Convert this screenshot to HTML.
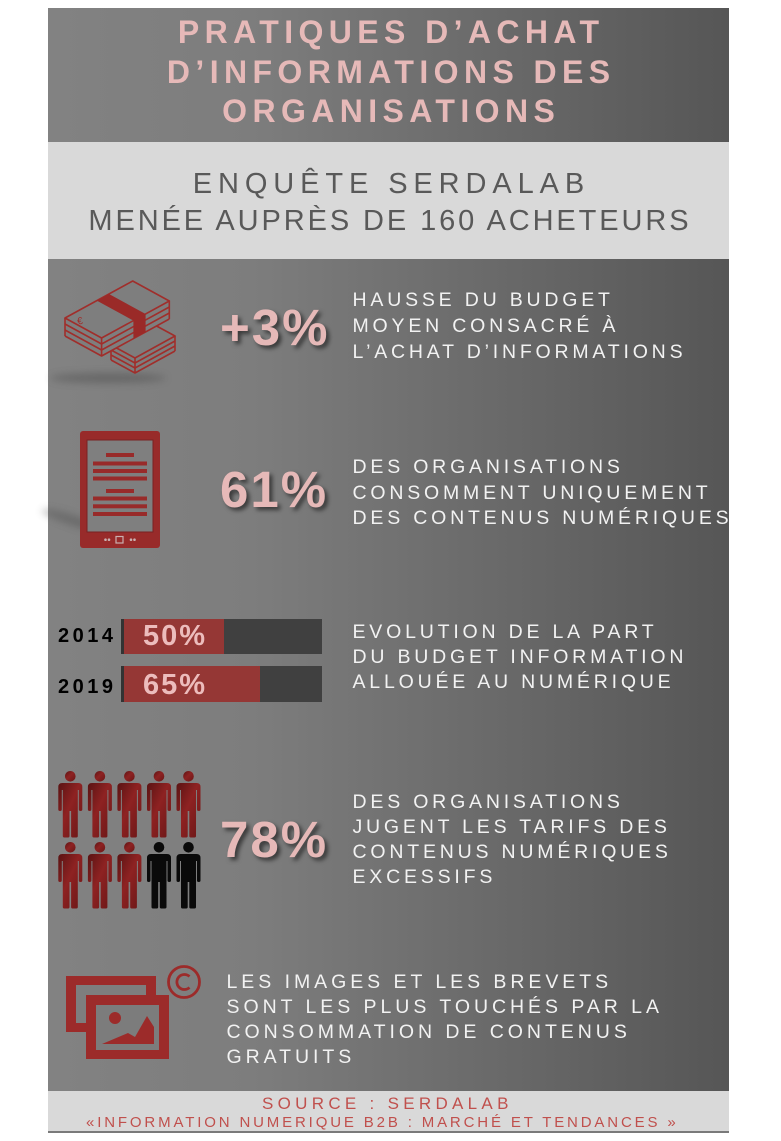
<!DOCTYPE html>
<html>
<head>
<meta charset="utf-8">
<style>
html,body{margin:0;padding:0;background:#fff;}
body{width:781px;height:1141px;position:relative;overflow:hidden;font-family:"Liberation Sans",Arial,sans-serif;}
.panel{position:absolute;left:48px;top:8px;width:681px;height:1125px;background:linear-gradient(to right,#828282 0%,#7d7d7d 30%,#6a6a6a 65%,#565656 100%);}
.band{position:absolute;left:48px;width:681px;background:#d9d9d9;}
.t{position:absolute;white-space:nowrap;line-height:1;font-family:"Liberation Sans",Arial,sans-serif;}
.title{left:48px;width:681px;box-sizing:border-box;text-align:center;font-size:32px;font-weight:bold;letter-spacing:5.4px;padding-left:5.4px;color:#e6b9b8;}
.sub{left:48px;width:681px;box-sizing:border-box;text-align:center;font-size:29px;color:#595959;}
.big{left:220px;font-size:51px;font-weight:bold;letter-spacing:2px;color:#e6b9b8;text-shadow:3px 3px 4px rgba(0,0,0,.55);}
.d{font-size:19.5px;letter-spacing:3.8px;color:#f2f2f2;}
.d5{letter-spacing:3.95px;}
.yr{left:58px;font-size:20px;font-weight:bold;letter-spacing:3.5px;color:#000;}
.pc{left:143px;font-size:29px;font-weight:bold;letter-spacing:2px;color:#ecbcbc;}
.bar{position:absolute;}
</style>
</head>
<body>
<div class="panel"></div>
<div class="band" style="top:142px;height:117px;"></div>
<div class="band" style="top:1091px;height:41px;"></div>
<div class="band" style="top:1131px;height:2px;background:#7a7a7a;"></div>

<!-- bars -->
<div class="bar" style="left:121px;top:619px;width:3px;height:35px;background:#333;"></div>
<div class="bar" style="left:124px;top:619px;width:100px;height:35px;background:#953735;"></div>
<div class="bar" style="left:224px;top:619px;width:98px;height:35px;background:#404040;"></div>
<div class="bar" style="left:121px;top:666px;width:3px;height:36px;background:#333;"></div>
<div class="bar" style="left:124px;top:666px;width:136px;height:36px;background:#953735;"></div>
<div class="bar" style="left:260px;top:666px;width:62px;height:36px;background:#404040;"></div>

<svg width="781" height="1141" style="position:absolute;left:0;top:0;" xmlns="http://www.w3.org/2000/svg">
<defs>
<filter id="bl" x="-50%" y="-200%" width="200%" height="500%"><feGaussianBlur stdDeviation="4"/></filter>
<linearGradient id="rg" x1="0" y1="0" x2="1" y2="1">
<stop offset="0" stop-color="#5a1313"/>
<stop offset="0.45" stop-color="#8e2222"/>
<stop offset="1" stop-color="#6a1717"/>
</linearGradient>
<g id="man">
<circle cx="0" cy="5.3" r="5.3"/>
<path d="M -12,16 Q -12,12 -8,12 L 8,12 Q 12,12 12,16 L 12,38.5 Q 12,40 10.25,40 Q 8.5,40 8.5,38.5 L 8.5,19 L 7.5,19 L 7.5,65 Q 7.5,66.5 6,66.5 L 2.2,66.5 Q 0.8,66.5 0.8,65 L 0.8,40 L -0.8,40 L -0.8,65 Q -0.8,66.5 -2.2,66.5 L -6,66.5 Q -7.5,66.5 -7.5,65 L -7.5,19 L -8.5,19 L -8.5,38.5 Q -8.5,40 -10.25,40 Q -12,40 -12,38.5 Z"/>
</g>
</defs>

<!-- shadows -->
<ellipse cx="108" cy="378" rx="58" ry="5" fill="#4a4a4a" opacity="0.45" filter="url(#bl)"/>
<ellipse cx="78" cy="522" rx="38" ry="5" fill="#4a4a4a" opacity="0.4" filter="url(#bl)" transform="rotate(18 78 522)"/>

<!-- money stack B (lower right) -->
<g stroke="#a02e2b" stroke-width="1.6" stroke-linejoin="round" fill="none">
<polygon points="111,345 151,323 175,336 175,351 135,373 111,360" fill="#7d7d7d" stroke="none"/>
<polygon points="111,345 151,323 175,336 135,358"/>
<polyline points="111,350 135,363 175,341"/>
<polyline points="111,355 135,368 175,346"/>
<polyline points="111,360 135,373 175,351"/>
<line x1="111" y1="345" x2="111" y2="360"/>
<line x1="135" y1="358" x2="135" y2="373"/>
<line x1="175" y1="336" x2="175" y2="351"/>
</g>
<!-- money stack A (upper left) -->
<g stroke="#a02e2b" stroke-width="1.6" stroke-linejoin="round" fill="none">
<polygon points="65,318 132.7,281 169.3,301 169.3,319 101.6,356 65,336" fill="#7e7e7e" stroke="none"/>
<polygon points="65,318 132.7,281 169.3,301 101.6,338"/>
<polyline points="65,324 101.6,344 169.3,307"/>
<polyline points="65,330 101.6,350 169.3,313"/>
<polyline points="65,336 101.6,356 169.3,319"/>
<line x1="65" y1="318" x2="65" y2="336"/>
<line x1="101.6" y1="338" x2="101.6" y2="356"/>
<line x1="169.3" y1="301" x2="169.3" y2="319"/>
</g>
<polygon points="96.8,300.6 109,294 145.6,314 145.6,332 133.4,338.6 133.4,320.6" fill="#9a2a28"/>
<text x="77" y="324" font-family="Liberation Sans, Arial, sans-serif" font-size="10" fill="#a02e2b" transform="rotate(-10 81 320)">€</text>

<!-- tablet -->
<rect x="80" y="431" width="80" height="117" rx="3" fill="#982b2a"/>
<rect x="87" y="440" width="66" height="92" fill="#7f7f7f" stroke="#7a2222" stroke-width="1"/>
<g fill="#982b2a">
<rect x="106" y="453" width="28" height="4"/>
<rect x="93" y="461.5" width="54" height="4"/>
<rect x="93" y="469" width="54" height="4"/>
<rect x="93" y="476.5" width="54" height="4"/>
<rect x="106" y="489" width="28" height="4"/>
<rect x="93" y="496.5" width="54" height="4"/>
<rect x="93" y="504.3" width="54" height="4"/>
<rect x="93" y="512" width="54" height="4"/>
</g>
<g fill="#c9b0b0">
<circle cx="105.5" cy="539.7" r="1.3"/>
<circle cx="109" cy="539.7" r="1.3"/>
<circle cx="131" cy="539.7" r="1.3"/>
<circle cx="134.5" cy="539.7" r="1.3"/>
</g>
<rect x="116" y="536.5" width="7" height="6.5" fill="none" stroke="#c9b0b0" stroke-width="1.2"/>

<!-- people -->
<g fill="url(#rg)">
<use href="#man" x="70.3" y="771"/>
<use href="#man" x="99.9" y="771"/>
<use href="#man" x="129.4" y="771"/>
<use href="#man" x="159" y="771"/>
<use href="#man" x="188.5" y="771"/>
<use href="#man" x="70.3" y="842"/>
<use href="#man" x="99.9" y="842"/>
<use href="#man" x="129.4" y="842"/>
</g>
<g fill="#0a0a0a">
<use href="#man" x="159" y="842"/>
<use href="#man" x="188.5" y="842"/>
</g>

<!-- image / copyright icon -->
<rect x="66" y="976" width="90" height="56" fill="#9c2b2a"/>
<rect x="76" y="985" width="70" height="38" fill="#7e7e7e"/>
<rect x="86" y="995" width="83" height="64" fill="#9c2b2a"/>
<rect x="96" y="1005" width="63" height="45" fill="#7c7c7c"/>
<circle cx="115" cy="1018" r="6" fill="#9c2b2a"/>
<polygon points="102,1044 128,1033 135,1037 147,1016 154,1027 154,1044" fill="#9c2b2a"/>
<circle cx="184" cy="982" r="15.5" fill="none" stroke="#9c2b2a" stroke-width="2.8"/>
<path d="M 189.5,976.5 A 7.5 7.5 0 1 0 189.5,987.5" fill="none" stroke="#9c2b2a" stroke-width="2.8"/>
</svg>

<!-- title -->
<div class="t title" style="top:16px;">PRATIQUES D’ACHAT</div>
<div class="t title" style="top:56px;">D’INFORMATIONS DES</div>
<div class="t title" style="top:95px;">ORGANISATIONS</div>

<div class="t sub" style="top:169.5px;letter-spacing:5.9px;padding-left:5.9px;">ENQUÊTE SERDALAB</div>
<div class="t sub" style="top:206.5px;letter-spacing:2.9px;padding-left:2.9px;">MENÉE AUPRÈS DE 160 ACHETEURS</div>

<!-- section 1 -->
<div class="t big" style="top:302px;">+3%</div>
<div class="t d" style="left:352.5px;top:290.5px;">HAUSSE DU BUDGET</div>
<div class="t d" style="left:352.5px;top:316.5px;">MOYEN CONSACRÉ À</div>
<div class="t d" style="left:352.5px;top:342.5px;">L’ACHAT D’INFORMATIONS</div>

<!-- section 2 -->
<div class="t big" style="top:464px;">61%</div>
<div class="t d" style="left:352.5px;top:457.5px;">DES ORGANISATIONS</div>
<div class="t d" style="left:352.5px;top:483.5px;">CONSOMMENT UNIQUEMENT</div>
<div class="t d" style="left:352.5px;top:508.5px;">DES CONTENUS NUMÉRIQUES</div>

<!-- section 3 -->
<div class="t yr" style="top:626px;">2014</div>
<div class="t yr" style="top:677px;">2019</div>
<div class="t pc" style="top:621.5px;">50%</div>
<div class="t pc" style="top:670.5px;">65%</div>
<div class="t d" style="left:352.5px;top:622.5px;">EVOLUTION DE LA PART</div>
<div class="t d" style="left:352.5px;top:647.5px;">DU BUDGET INFORMATION</div>
<div class="t d" style="left:352.5px;top:672.5px;">ALLOUÉE AU NUMÉRIQUE</div>

<!-- section 4 -->
<div class="t big" style="top:814px;">78%</div>
<div class="t d" style="left:352.5px;top:792.5px;">DES ORGANISATIONS</div>
<div class="t d" style="left:352.5px;top:817.5px;">JUGENT LES TARIFS DES</div>
<div class="t d" style="left:352.5px;top:842.5px;">CONTENUS NUMÉRIQUES</div>
<div class="t d" style="left:352.5px;top:867.5px;">EXCESSIFS</div>

<!-- section 5 -->
<div class="t d d5" style="left:226.5px;top:972.5px;">LES IMAGES ET LES BREVETS</div>
<div class="t d d5" style="left:226.5px;top:997.5px;">SONT LES PLUS TOUCHÉS PAR LA</div>
<div class="t d d5" style="left:226.5px;top:1022.5px;">CONSOMMATION DE CONTENUS</div>
<div class="t d d5" style="left:226.5px;top:1047.5px;">GRATUITS</div>

<!-- footer -->
<div class="t" style="left:262px;top:1094.6px;font-size:17px;letter-spacing:4.3px;color:#c0504d;">SOURCE : SERDALAB</div>
<div class="t" style="left:86px;top:1115.3px;font-size:15px;letter-spacing:2.85px;color:#c0504d;">«INFORMATION NUMERIQUE B2B : MARCHÉ ET TENDANCES »</div>
</body>
</html>
